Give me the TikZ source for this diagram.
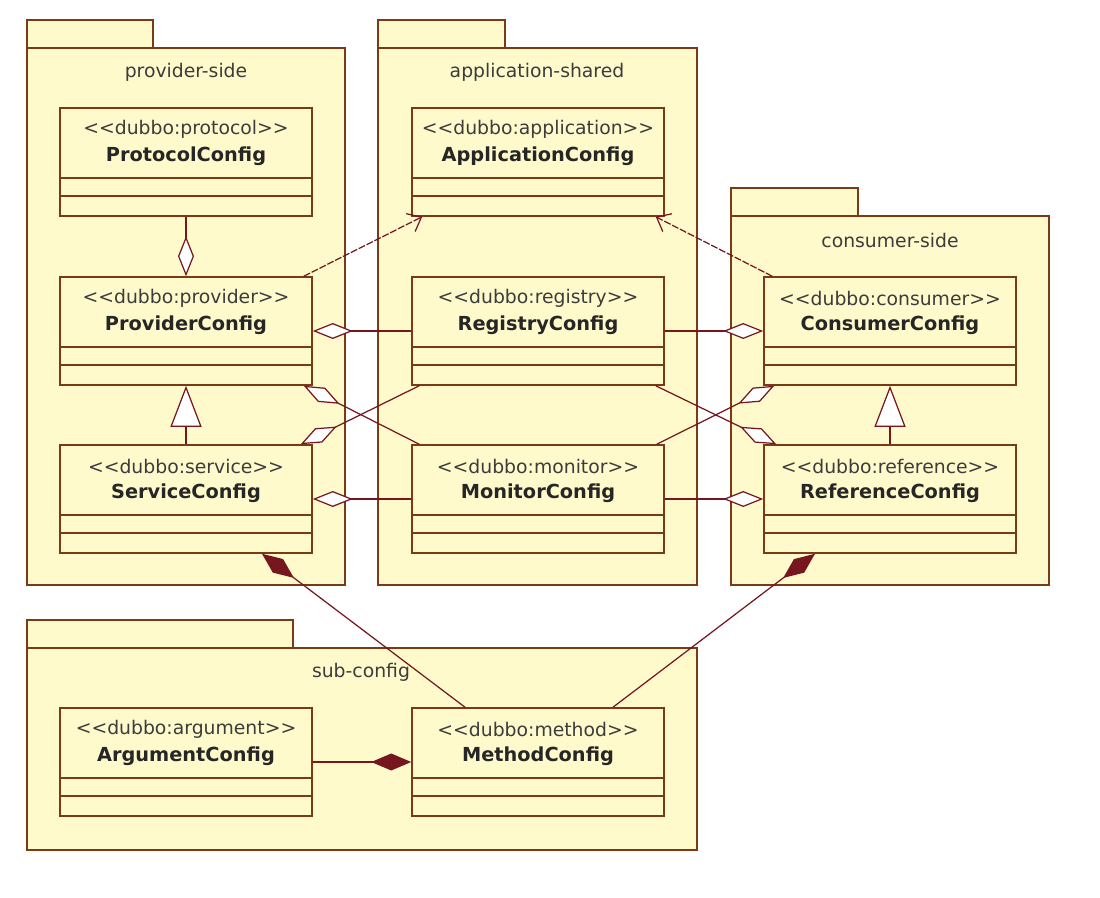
\documentclass[tikz,border=0pt]{standalone}
\usepackage{fontspec}
\newfontfamily\umlfont{DejaVu Sans}
\usetikzlibrary{arrows.meta}
\definecolor{umlfill}{RGB}{255,250,204}
\definecolor{umlborder}{RGB}{122,58,22}
\definecolor{umlline}{RGB}{118,22,30}
\definecolor{umltext}{RGB}{60,60,60}

\tikzset{
  package/.style={draw=umlborder, fill=umlfill, line width=0.9pt},
  pkglabel/.style={font=\umlfont\fontsize{10.7}{12}\selectfont, text=umltext, inner sep=0pt},
  classbox/.style={draw=umlborder, fill=umlfill, line width=0.9pt, minimum width=5.04cm, minimum height=2.16cm, inner sep=0pt},
  compline/.style={draw=umlborder, line width=0.9pt},
  stereo/.style={font=\umlfont\fontsize{10.7}{12}\selectfont, text=umltext, inner sep=0pt},
  classname/.style={font=\umlfont\bfseries\fontsize{11}{12}\selectfont, text=black!85, inner sep=0pt},
  assoc/.style={draw=umlline, line width=0.7pt},
  aggr/.style={assoc, -{Diamond[fill=white, length=0.8cm, width=0.32cm]}},
  compo/.style={assoc, -{Diamond[fill=umlline, length=0.8cm, width=0.34cm]}},
  gener/.style={assoc, -{Triangle[fill=white, length=0.82cm, width=0.62cm]}},
  depend/.style={assoc, dash pattern=on 4pt off 1pt, -{Straight Barb[length=0.24cm, width=0.4cm]}},
}

% class box: name, centre, stereotype, class name
\newcommand{\umlclass}[4]{%
  \node[classbox] (#1) at (#2) {};
  \draw[compline] ([yshift=-1.42cm]#1.north west) -- ([yshift=-1.42cm]#1.north east);
  \draw[compline] ([yshift=-1.78cm]#1.north west) -- ([yshift=-1.78cm]#1.north east);
  \node[stereo] (#1-st) at ([yshift=-0.44cm]#1.north) {<\kern0pt<#3>\kern0pt>};
  \node[classname] (#1-nm) at ([yshift=-0.98cm]#1.north) {#4};
}

\begin{document}
\begin{tikzpicture}[x=0.02cm, y=-0.02cm]
  \fill[white] (0,0) rectangle (1100,898);
  \useasboundingbox (0,0) rectangle (1100,898);

  % packages
  \draw[package] (27,20) rectangle (153,48);
  \draw[package] (27,48) rectangle (345,585);
  \node[pkglabel] (providerlbl) at (186,72) {provider-side};

  \draw[package] (378,20) rectangle (505,48);
  \draw[package] (378,48) rectangle (697,585);
  \node[pkglabel] (sharedlbl) at (537,72) {application-shared};

  \draw[package] (731,188) rectangle (858,216);
  \draw[package] (731,216) rectangle (1049,585);
  \node[pkglabel] (consumerlbl) at (890,240) {consumer-side};

  \draw[package] (27,620) rectangle (293,648);
  \draw[package] (27,648) rectangle (697,850);
  \node[pkglabel] (sublbl) at (361,672) {sub-config};

  % classes
  \umlclass{proto}{186,162}{dubbo:protocol}{ProtocolConfig}
  \umlclass{prov}{186,331}{dubbo:provider}{ProviderConfig}
  \umlclass{serv}{186,499}{dubbo:service}{ServiceConfig}
  \umlclass{app}{538,162}{dubbo:application}{ApplicationConfig}
  \umlclass{reg}{538,331}{dubbo:registry}{RegistryConfig}
  \umlclass{mon}{538,499}{dubbo:monitor}{MonitorConfig}
  \umlclass{cons}{890,331}{dubbo:consumer}{ConsumerConfig}
  \umlclass{ref}{890,499}{dubbo:reference}{ReferenceConfig}
  \umlclass{arg}{186,762}{dubbo:argument}{ArgumentConfig}
  \umlclass{meth}{538,762}{dubbo:method}{MethodConfig}

  % relations
  \draw[aggr] (proto.south) -- (prov.north);
  \draw[gener] (serv.north) -- (prov.south);
  \draw[gener] (ref.north) -- (cons.south);
  \draw[depend] ([xshift=-0.18cm]prov.north east) -- ([xshift=0.22cm]app.south west);
  \draw[depend] ([xshift=0.18cm]cons.north west) -- ([xshift=-0.18cm]app.south east);
  \draw[aggr] (reg.west) -- (prov.east);
  \draw[aggr] (reg.east) -- (cons.west);
  \draw[aggr] (mon.west) -- (serv.east);
  \draw[aggr] (mon.east) -- (ref.west);
  \draw[aggr] ([xshift=0.16cm]reg.south west) -- ([xshift=-0.24cm]serv.north east);
  \draw[aggr] ([xshift=0.16cm]mon.north west) -- ([xshift=-0.18cm]prov.south east);
  \draw[aggr] ([xshift=-0.18cm]reg.south east) -- ([xshift=0.26cm]ref.north west);
  \draw[aggr] ([xshift=-0.16cm]mon.north east) -- ([xshift=0.22cm]cons.south west);
  \draw[compo] ([xshift=-1.46cm]meth.north) -- ([xshift=1.52cm]serv.south);
  \draw[compo] ([xshift=1.5cm]meth.north) -- ([xshift=-1.5cm]ref.south);
  \draw[compo] (arg.east) -- (meth.west);
\end{tikzpicture}
\end{document}
